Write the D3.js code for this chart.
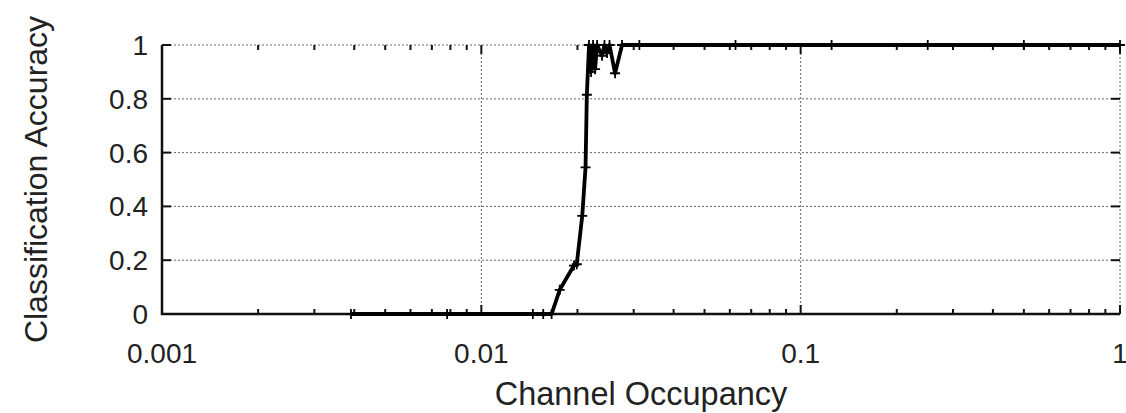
<!DOCTYPE html>
<html>
<head>
<meta charset="utf-8">
<script src="https://cdn.jsdelivr.net/npm/d3@7"></script>
<style>
  html, body { margin: 0; padding: 0; background: #fff; }
  svg { display: block; }
  text { font-family: "Liberation Sans", Arial, Helvetica, sans-serif; fill: #222; }
</style>
</head>
<body>
<svg id="chart" width="1126" height="413"></svg>
<script>
// Channel occupancy (log axis) vs. classification accuracy
const occupancy = [
  0.00390625, 0.0078125, 0.0145, 0.015625, 0.0166,
  0.0176, 0.0195, 0.0199, 0.0207, 0.0212, 0.0214,
  0.02174, 0.02206, 0.02238, 0.02271, 0.02304, 0.02388, 0.0243,
  0.02476, 0.0252, 0.02623, 0.02758,
  0.03125, 0.0625, 0.125, 0.25, 0.5, 1
];
const accuracy = [
  0, 0, 0, 0, 0,
  0.09, 0.18, 0.185, 0.365, 0.545, 0.815,
  1, 0.90, 1, 0.91, 1, 0.96, 1,
  0.97, 1, 0.895, 1,
  1, 1, 1, 1, 1, 1
];
const xTicks = [0.001, 0.01, 0.1, 1];
const xTickLabels = ["0.001", "0.01", "0.1", "1"];
const yTicks = [0, 0.2, 0.4, 0.6, 0.8, 1];
const yTickLabels = ["0", "0.2", "0.4", "0.6", "0.8", "1"];

const svg = d3.select("#chart");
const plotL = 162, plotR = 1120, plotT = 45, plotB = 314;

const x = d3.scaleLog().domain([0.001, 1]).range([plotL, plotR]);
const y = d3.scaleLinear().domain([0, 1]).range([plotB, plotT]);

// minor log ticks (2..9 within each decade)
const minor = [];
for (let d = 0.001; d < 1; d *= 10) {
  for (let k = 2; k <= 9; k++) minor.push(d * k);
}

const grid = svg.append("g").attr("stroke", "#666").attr("stroke-width", 1)
  .attr("stroke-dasharray", "2,2");
yTicks.filter(v => v > 0).forEach(v => {
  grid.append("line").attr("x1", plotL).attr("x2", plotR)
    .attr("y1", y(v)).attr("y2", y(v));
});
xTicks.filter(v => v > 0.001).forEach(v => {
  grid.append("line").attr("x1", x(v)).attr("x2", x(v))
    .attr("y1", plotT).attr("y2", plotB);
});

// tick marks (mirrored on top and right)
const ticks = svg.append("g").attr("stroke", "#111").attr("stroke-width", 2);
xTicks.forEach(v => {
  ticks.append("line").attr("x1", x(v)).attr("x2", x(v)).attr("y1", plotB).attr("y2", plotB - 9);
  ticks.append("line").attr("x1", x(v)).attr("x2", x(v)).attr("y1", plotT).attr("y2", plotT + 9);
});
minor.forEach(v => {
  ticks.append("line").attr("x1", x(v)).attr("x2", x(v)).attr("y1", plotB).attr("y2", plotB - 5);
  ticks.append("line").attr("x1", x(v)).attr("x2", x(v)).attr("y1", plotT).attr("y2", plotT + 5);
});
yTicks.forEach(v => {
  ticks.append("line").attr("x1", plotL).attr("x2", plotL + 9).attr("y1", y(v)).attr("y2", y(v));
  ticks.append("line").attr("x1", plotR).attr("x2", plotR - 9).attr("y1", y(v)).attr("y2", y(v));
});

// left and bottom axis lines
svg.append("path")
  .attr("d", `M${plotL},${plotT}V${plotB}H${plotR}`)
  .attr("fill", "none").attr("stroke", "#111").attr("stroke-width", 2.5);

// tick labels
svg.append("g").selectAll("text").data(xTicks).join("text")
  .attr("x", d => x(d)).attr("y", 363)
  .attr("text-anchor", "middle").attr("font-size", 28)
  .text((d, i) => xTickLabels[i]);
svg.append("g").selectAll("text").data(yTicks).join("text")
  .attr("x", 148).attr("y", d => y(d)).attr("dy", "0.36em")
  .attr("text-anchor", "end").attr("font-size", 28)
  .text((d, i) => yTickLabels[i]);

// axis titles
svg.append("text").attr("x", (plotL + plotR) / 2).attr("y", 405)
  .attr("text-anchor", "middle").attr("font-size", 32.5).text("Channel Occupancy");
svg.append("text").attr("transform", `translate(35,${(plotT + plotB) / 2}) rotate(-90)`)
  .attr("text-anchor", "middle").attr("dy", "0.36em").attr("font-size", 32).text("Classification Accuracy");

// data line
const pts = occupancy.map((o, i) => [o, accuracy[i]]);
svg.append("path").datum(pts)
  .attr("fill", "none").attr("stroke", "#000").attr("stroke-width", 3.8)
  .attr("stroke-linejoin", "round")
  .attr("d", d3.line().x(d => x(d[0])).y(d => y(d[1])));

// point markers
const m = 5;
svg.append("g").attr("stroke", "#000").attr("stroke-width", 1.8)
  .selectAll("path").data(pts).join("path")
  .attr("d", d => {
    const px = x(d[0]), py = y(d[1]);
    return `M${px - m},${py}H${px + m}M${px},${py - m}V${py + m}`;
  });
</script>
</body>
</html>
